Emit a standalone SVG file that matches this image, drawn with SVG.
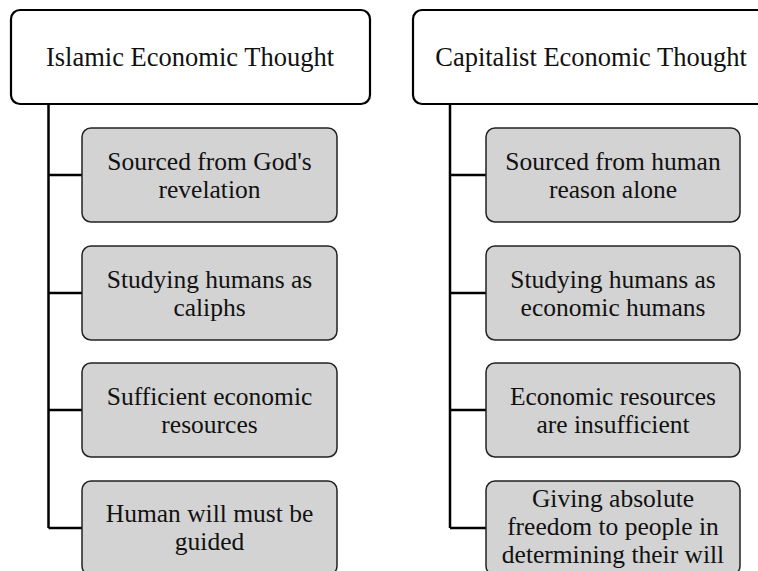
<svg xmlns="http://www.w3.org/2000/svg" width="758" height="571" viewBox="0 0 758 571">
<style>
.hdr{fill:#ffffff;stroke:#000;stroke-width:2.2}
.box{fill:#d3d3d3;stroke:#222;stroke-width:1.5}
.con{fill:none;stroke:#000;stroke-width:2.5}
text{font-family:"Liberation Serif","Times New Roman",serif;font-size:25.5px;fill:#111;text-anchor:middle}
.h{font-size:26.5px}
</style>
<rect width="758" height="571" fill="#fff"/>
<g id="connectors">
<path class="con" d="M48.5,104 V528 M48.5,175 H82 M48.5,293 H82 M48.5,410 H82 M48.5,528 H82"/>
<path class="con" d="M450,104 V528 M450,175 H486 M450,293 H486 M450,410 H486 M450,528 H486"/>
</g>
<g id="islamic">
<rect class="hdr" x="11" y="10" width="359" height="94" rx="9"/>
<text class="h" x="190" y="66">Islamic Economic Thought</text>
</g>
<g id="capitalist">
<rect class="hdr" x="413" y="10" width="358" height="94" rx="9"/>
<text class="h" x="591" y="66">Capitalist Economic Thought</text>
</g>
<g id="i1">
<rect class="box" x="82" y="128" width="255" height="94" rx="9"/>
<text x="209.5" y="169.5">Sourced from God's</text>
<text x="209.5" y="197.5">revelation</text>
</g>
<g id="i2">
<rect class="box" x="82" y="246" width="255" height="94" rx="9"/>
<text x="209.5" y="287.5">Studying humans as</text>
<text x="209.5" y="315.5">caliphs</text>
</g>
<g id="i3">
<rect class="box" x="82" y="363" width="255" height="94" rx="9"/>
<text x="209.5" y="404.5">Sufficient economic</text>
<text x="209.5" y="432.5">resources</text>
</g>
<g id="i4">
<rect class="box" x="82" y="481" width="255" height="94" rx="9"/>
<text x="209.5" y="521.5">Human will must be</text>
<text x="209.5" y="549.5">guided</text>
</g>
<g id="c1">
<rect class="box" x="486" y="128" width="254" height="94" rx="9"/>
<text x="613" y="169.5">Sourced from human</text>
<text x="613" y="197.5">reason alone</text>
</g>
<g id="c2">
<rect class="box" x="486" y="246" width="254" height="94" rx="9"/>
<text x="613" y="287.5">Studying humans as</text>
<text x="613" y="315.5">economic humans</text>
</g>
<g id="c3">
<rect class="box" x="486" y="363" width="254" height="94" rx="9"/>
<text x="613" y="404.5">Economic resources</text>
<text x="613" y="432.5">are insufficient</text>
</g>
<g id="c4">
<rect class="box" x="486" y="481" width="254" height="94" rx="9"/>
<text x="613" y="507">Giving absolute</text>
<text x="613" y="535">freedom to people in</text>
<text x="613" y="563">determining their will</text>
</g>
</svg>
